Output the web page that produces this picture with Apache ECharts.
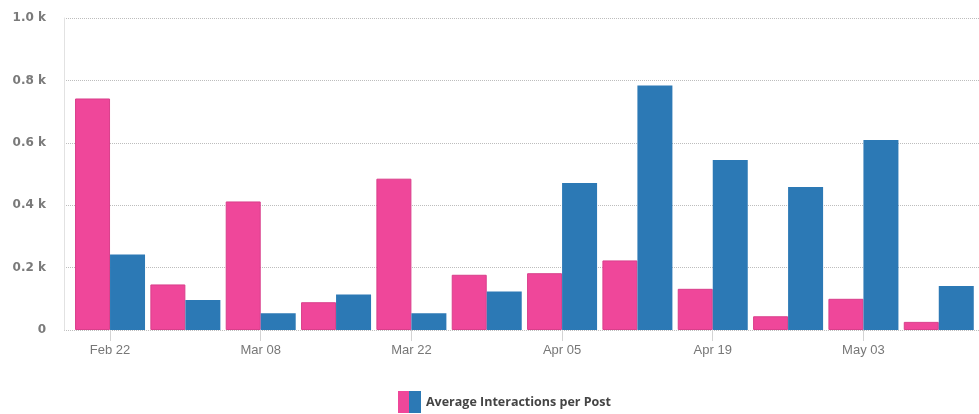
<!DOCTYPE html>
<html>
<head>
<meta charset="utf-8">
<script src="https://cdn.jsdelivr.net/npm/echarts@6/dist/echarts.min.js"></script>
<style>
  html, body { margin: 0; padding: 0; background: #ffffff; }
  #chart { width: 979px; height: 414px; }
</style>
</head>
<body>
<div id="chart"></div>
<script>
// Weekly buckets (week start dates)
const weeks = ['Feb 22', 'Mar 01', 'Mar 08', 'Mar 15', 'Mar 22', 'Mar 29',
               'Apr 05', 'Apr 12', 'Apr 19', 'Apr 26', 'May 03', 'May 10'];
// Two measurements per week
const pinkValues = [742, 146, 412, 89, 485, 177, 182, 223, 132, 44, 100, 26];
const blueValues = [242, 96, 54, 114, 54, 123, 471, 784, 545, 458, 609, 141];
// Weeks that carry an axis label / tick
const labelledWeeks = [0, 2, 4, 6, 8, 10];

const legendName = 'Average Interactions per Post';
const PINK = '#EF479A';
const BLUE = '#2C79B5';

const chart = echarts.init(document.getElementById('chart'), null, { renderer: 'canvas' });

const toPairs = arr => arr.map((v, i) => [i, v]);

chart.setOption({
  animation: false,
  backgroundColor: '#ffffff',
  grid: { left: 64, right: 0, top: 18, bottom: 84 },
  legend: {
    left: 393,
    top: 386,
    itemWidth: 23,
    itemHeight: 22,
    itemGap: 10,
    textStyle: { fontFamily: 'Open Sans', fontWeight: 'bold', fontSize: 12.5, color: '#444' },
    data: [{
      name: legendName,
      icon: 'rect',
      itemStyle: {
        borderWidth: 0,
        color: {
          type: 'linear', x: 0, y: 0, x2: 1, y2: 0,
          colorStops: [
            { offset: 0, color: PINK }, { offset: 0.5, color: PINK },
            { offset: 0.5, color: BLUE }, { offset: 1, color: BLUE }
          ]
        }
      }
    }]
  },
  xAxis: {
    type: 'value',
    min: -0.611,
    max: 11.534,
    axisLine: { show: false },
    splitLine: { show: false },
    axisTick: {
      show: true,
      customValues: labelledWeeks,
      length: 11,
      lineStyle: { color: '#d4d4d4', width: 1 }
    },
    axisLabel: {
      customValues: labelledWeeks,
      formatter: v => weeks[Math.round(v)] || '',
      margin: 14,
      color: '#777',
      fontSize: 13,
      fontFamily: 'Liberation Sans'
    }
  },
  yAxis: {
    type: 'value',
    min: 0,
    max: 1000,
    interval: 200,
    axisLine: { show: true, onZero: false, lineStyle: { color: '#e2e2e2', width: 1 } },
    axisTick: { show: false },
    splitLine: { show: true, lineStyle: { color: '#bdbdbd', type: 'dotted', width: 1 } },
    axisLabel: {
      margin: 18,
      color: '#7a7a7a',
      fontSize: 12,
      fontWeight: 'bold',
      fontFamily: 'DejaVu Sans',
      formatter: v => v === 0 ? '0' : (v / 1000).toFixed(1) + ' k'
    }
  },
  series: [
    {
      name: legendName,
      type: 'bar',
      data: toPairs(pinkValues),
      barWidth: 35,
      barGap: '0%',
      itemStyle: { color: PINK, borderColor: '#d93f8b', borderWidth: 1 }
    },
    {
      name: legendName,
      type: 'bar',
      data: toPairs(blueValues),
      barWidth: 35,
      barGap: '0%',
      itemStyle: { color: BLUE }
    }
  ]
});
</script>
</body>
</html>
